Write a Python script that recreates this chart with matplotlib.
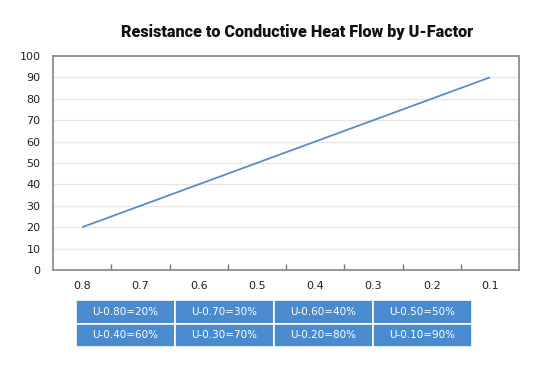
import matplotlib
matplotlib.use("Agg")
import matplotlib.pyplot as plt

categories = ["0.8", "0.7", "0.6", "0.5", "0.4", "0.3", "0.2", "0.1"]
resistance = [20, 30, 40, 50, 60, 70, 80, 90]
yticks = [0, 10, 20, 30, 40, 50, 60, 70, 80, 90, 100]
table_rows = [
    ["U-0.80=20%", "U-0.70=30%", "U-0.60=40%", "U-0.50=50%"],
    ["U-0.40=60%", "U-0.30=70%", "U-0.20=80%", "U-0.10=90%"],
]
title = "Resistance to Conductive Heat Flow by U-Factor"

W, H = 544, 366
fig = plt.figure(figsize=(W / 100, H / 100), dpi=100)
fig.patch.set_facecolor("white")

ax = fig.add_axes([53 / W, 1 - 270 / H, (519 - 53) / W, (270 - 56) / H])
x = list(range(len(categories)))
ax.plot(x, resistance, color="#5b8cc6", lw=1.3, solid_capstyle="butt")
ax.set_xlim(-0.5, len(categories) - 0.5)
ax.set_ylim(0, 100)
ax.set_yticks(yticks)
ax.set_yticklabels([str(v) for v in yticks])
ax.set_xticks(x)
ax.set_xticklabels(categories)
ax.set_xticks([i + 0.5 for i in range(len(categories) - 1)], minor=True)
ax.tick_params(axis="x", which="major", length=0, pad=8, labelsize=8, labelcolor="#222222")
ax.tick_params(axis="x", which="minor", direction="in", length=4, width=1, color="#777777")
ax.tick_params(axis="y", length=0, pad=9, labelsize=8, labelcolor="#222222")
ax.grid(axis="y", color="#e6e6e6", lw=0.9)
ax.set_axisbelow(True)
for s in ax.spines.values():
    s.set_color("#8e8e8e")
    s.set_linewidth(1.3)

fig.text(297 / W, 1 - 32 / H, title, ha="center", va="center",
         fontsize=11.6, fontweight=900, family="Roboto", color="#111111")

tax = fig.add_axes([76 / W, 1 - 347 / H, (472 - 76) / W, (347 - 300) / H])
tax.axis("off")
tbl = tax.table(cellText=table_rows, bbox=[0, 0, 1, 1], cellLoc="center")
tbl.auto_set_font_size(False)
for (r, c), cell in tbl.get_celld().items():
    cell.set_facecolor("#4a8bd0")
    cell.set_edgecolor("white")
    cell.set_linewidth(1.2)
    cell.get_text().set_color("white")
    cell.get_text().set_fontsize(7.5)

fig.savefig("out.png", dpi=100, facecolor="white")
